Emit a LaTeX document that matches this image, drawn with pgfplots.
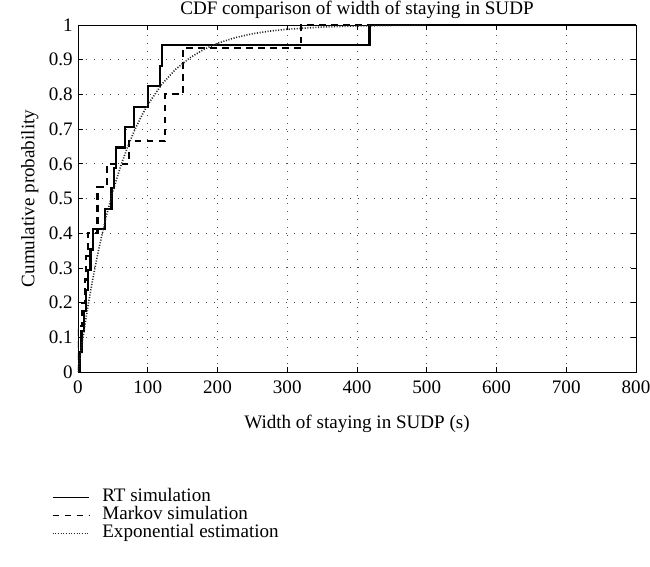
\documentclass[border=0pt]{standalone}
\usepackage{pgfplots}
\pgfplotsset{compat=1.18}
\usepackage{fontspec}
\setmainfont{Liberation Serif}
\begin{document}
\fontsize{14.3}{17}\selectfont
\begin{tikzpicture}
\begin{axis}[
  scale only axis,
  width=418.5pt, height=260.25pt,
  xmin=0, xmax=800, ymin=0, ymax=1,
  xtick={0,100,...,800},
  ytick={0,0.1,...,1},
  yticklabels={0,0.1,0.2,0.3,0.4,0.5,0.6,0.7,0.8,0.9,1},
  tick align=inside,
  tick pos=both,
  major tick length=4pt,
  tick style={black, line width=0.5pt},
  axis line style={black, line width=0.6pt},
  /pgf/number format/assume math mode=true,
  tick label style={font=\fontsize{14.3}{17}\selectfont},
  xticklabel style={yshift=-2pt},
  yticklabel style={xshift=1pt},
  label style={font=\fontsize{14.3}{17}\selectfont},
  title style={font=\fontsize{14.3}{17}\selectfont, yshift=-6.5pt},
  title={CDF comparison of width of staying in SUDP},
  xlabel={Width of staying in SUDP (s)},
  ylabel={Cumulative probability},
  xlabel style={yshift=-6pt},
  ylabel style={yshift=-2pt},
  grid=major,
  major grid style={black!70, line width=0.6pt, dash pattern=on 0.7pt off 5.3pt},
  legend style={at={(-0.047,-0.337)}, anchor=north west, draw=none, fill=none,
    font=\fontsize{14.3}{17}\selectfont, row sep=1.5pt, inner sep=0pt,
    nodes={inner sep=0pt, text height=9.5pt, text depth=2.5pt}},
  legend cell align=left,
  legend image code/.code={\draw[#1, line width=0.7pt] (0cm,0cm) -- (0.95cm,0cm);},
  legend style={/tikz/every even column/.append style={column sep=0pt}},
]
\addplot[const plot, black, line width=1.6pt] coordinates {
(0,0) (3,0.0588) (5,0.1176) (8,0.1765) (11,0.2353) (14,0.2941) (18,0.3529)
(22,0.4118) (39,0.4706) (48,0.5294) (52,0.5882) (54,0.6471) (67,0.7059)
(80,0.7647) (100,0.8235) (118,0.8824) (121,0.9412) (418,1) (800,1)};
\addlegendentry{\hspace{10pt}RT simulation}
\addplot[const plot, black, line width=1.6pt, dash pattern=on 5pt off 4pt] coordinates {
(0,0) (0,0.1333) (6,0.2) (10,0.2667) (12,0.3333) (14,0.4) (28,0.5333)
(41,0.6) (73,0.6667) (125,0.8) (150,0.9333) (320,1) (800,1)};
\addlegendentry{\hspace{10pt}Markov simulation}
\addplot[black!85, line width=1.2pt, dash pattern=on 0.8pt off 1.2pt] coordinates {
(0,0) (5,0.0709) (10,0.1368) (15,0.1980) (20,0.2548) (25,0.3076) (30,0.3567)
(40,0.4447) (50,0.5206) (60,0.5862) (70,0.6428) (80,0.6916) (90,0.7338)
(100,0.7702) (120,0.8288) (140,0.8724) (160,0.9049) (180,0.9292) (200,0.9472)
(225,0.9634) (250,0.9747) (275,0.9825) (300,0.9879) (350,0.9942) (400,0.9972)
(450,0.9987) (500,0.9994)};
\addlegendentry{\hspace{10pt}Exponential estimation}
\end{axis}
\pgfresetboundingbox
\useasboundingbox (-58.5pt,-146.25pt) rectangle (429pt,279pt);
\end{tikzpicture}
\end{document}
